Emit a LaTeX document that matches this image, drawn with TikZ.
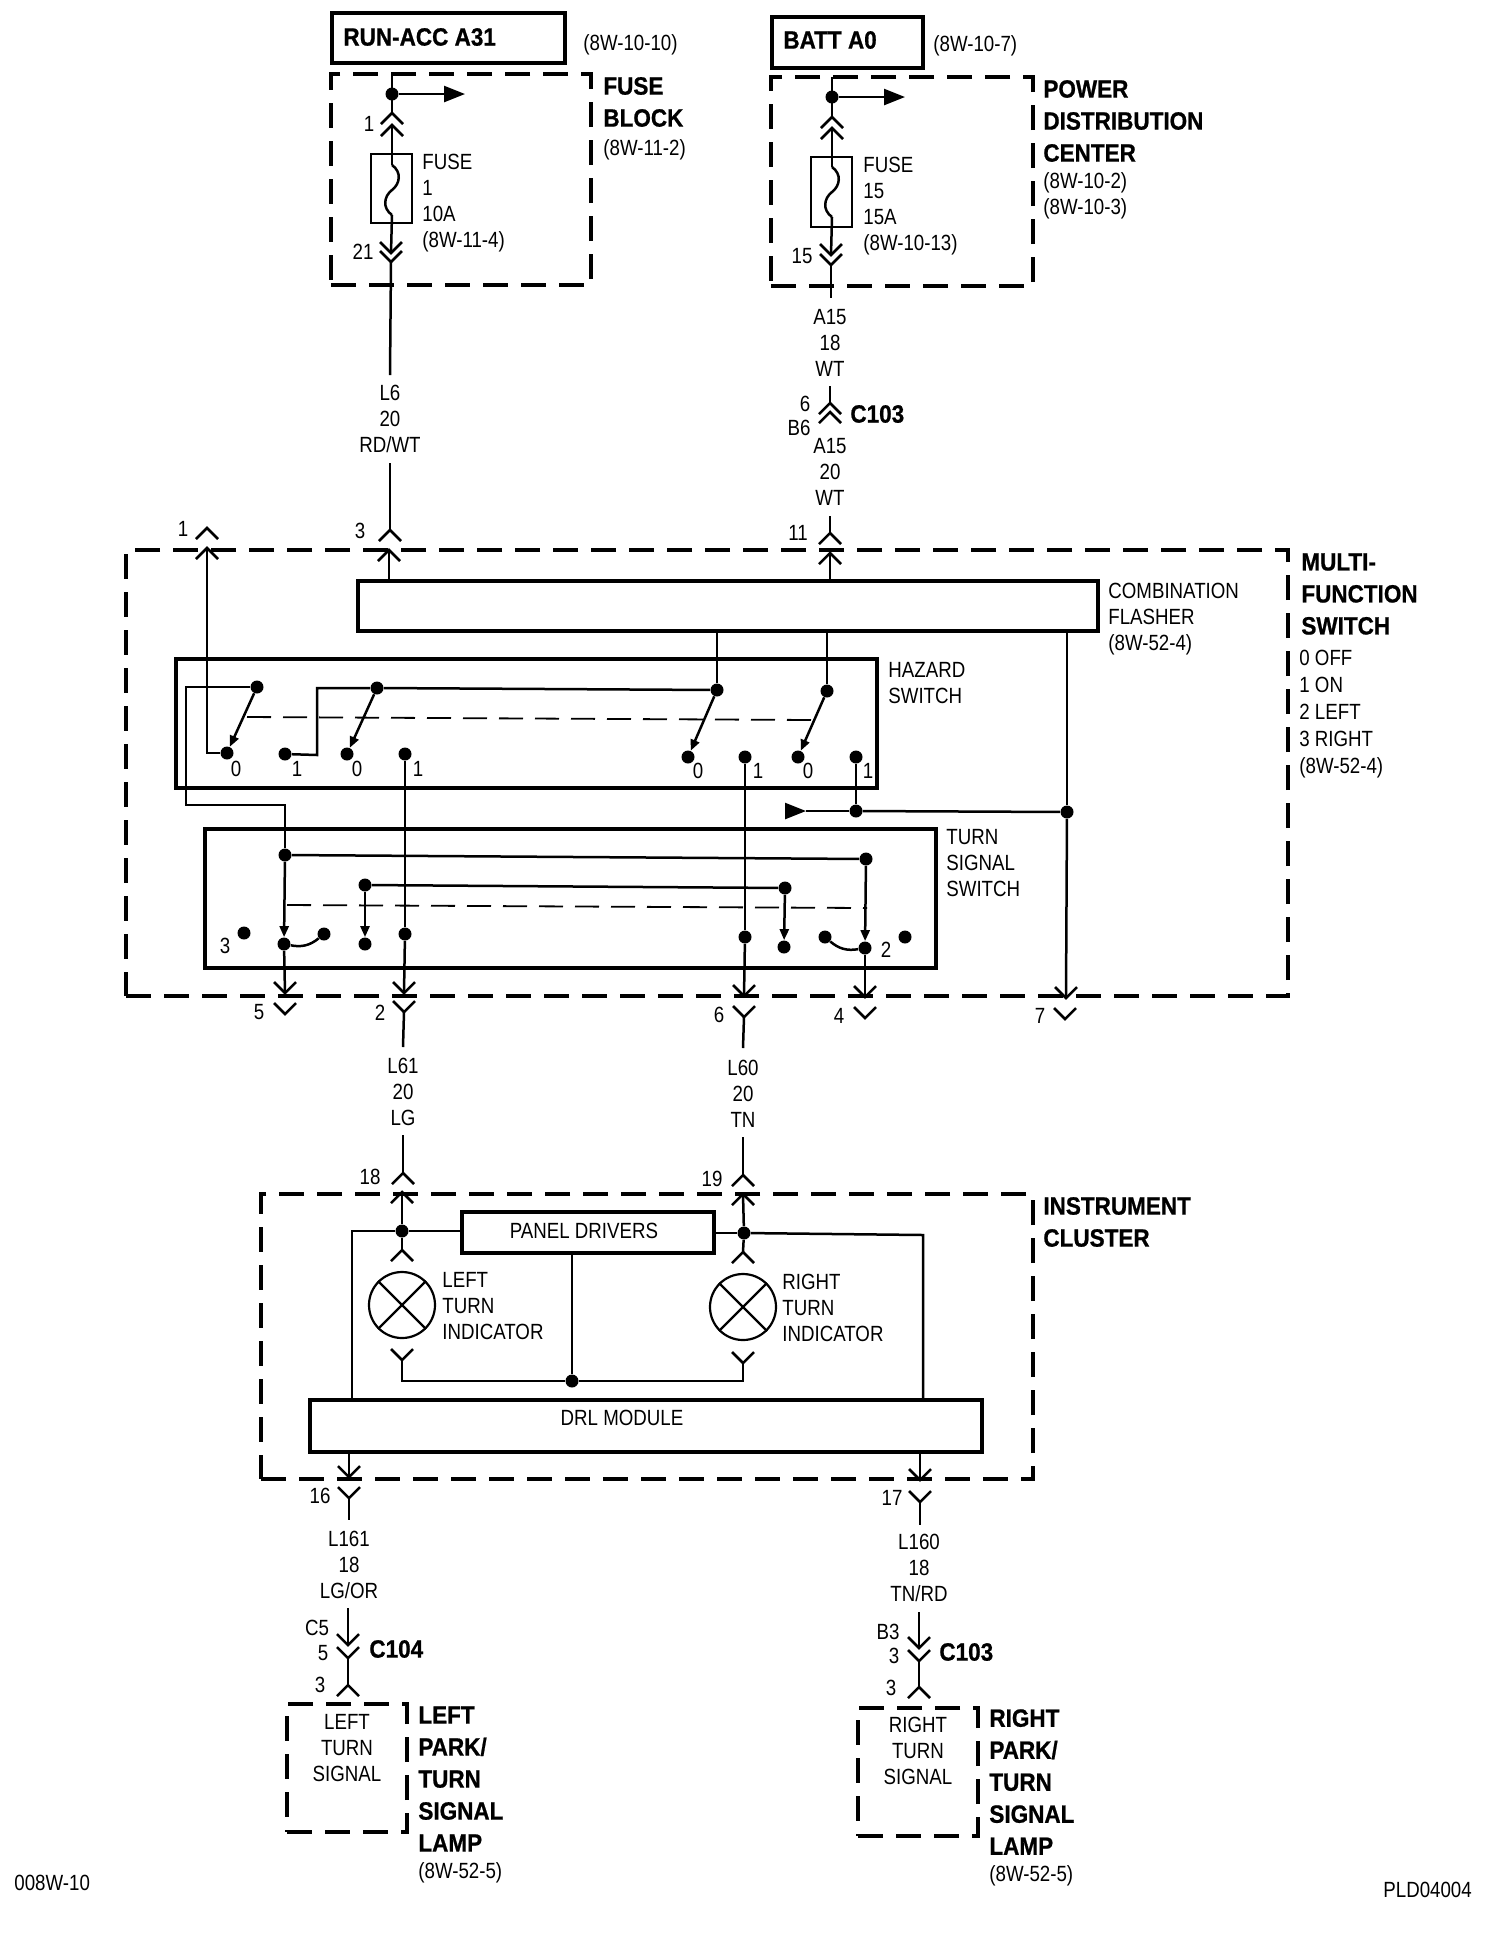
\documentclass[tikz,border=0pt]{standalone}
\usepackage{fontspec}
\setmainfont[FakeStretch=0.85,BoldFeatures={FakeStretch=0.9,FakeBold=0.8}]{Liberation Sans}
\usetikzlibrary{arrows.meta,fit}

\begin{document}
\begin{tikzpicture}[x=0.5pt,y=-0.5pt,
  wire/.style={line width=1.25pt},
  blade/.style={line width=1.25pt,-{Triangle[length=5.5pt,width=4.5pt]}},
  feed/.style={line width=1.25pt,-{Triangle[length=10.5pt,width=8pt]}},
  dot/.style={circle,fill=black,inner sep=0pt,minimum size=6.5pt},
  hbox/.style={draw,line width=2pt,inner sep=0pt},
  fbox/.style={draw,line width=1.25pt,inner sep=0pt},
  dbox/.style={draw,line width=1.75pt,dash pattern=on 12.5pt off 6.5pt,inner sep=0pt},
  link/.style={line width=0.9pt,dash pattern=on 12pt off 6pt},
  lamp/.style={draw,circle,line width=1.1pt,inner sep=0pt,minimum size=33pt},
  txt/.style={font=\fontsize{11}{13}\selectfont,inner sep=0pt,align=center},
  ltxt/.style={txt,anchor=west,align=left},
  htxt/.style={font=\fontsize{12.5}{16}\selectfont\bfseries,inner sep=0pt,anchor=west,align=left},
  chevup/.pic={\draw[wire] (-11,11) -- (0,0) -- (11,11);},
  chevdown/.pic={\draw[wire] (-11,-11) -- (0,0) -- (11,-11);},
  fuselink/.pic={
    \coordinate (-in) at (0,-25);
    \coordinate (-out) at (0,25);
    \draw[wire] (-in) .. controls (10,-18) and (8,-6) .. (0,0) .. controls (-8,6) and (-10,18) .. (-out);}]
\useasboundingbox (0,0) rectangle (1504,1940);

% supply boxes
\node[hbox,fit={(332,13) (565,63)}] (runacc) {};
\node[htxt] (runacctxt) at (343,37) {RUN-ACC A31};
\node[ltxt] (runaccref) at (583,45) {(8W-10-10)};
\node[hbox,fit={(772,17) (923,68)}] (batt) {};
\node[htxt] (batttxt) at (783,40) {BATT A0};
\node[ltxt] (battref) at (933,46) {(8W-10-7)};

% fuse block
\node[dbox,fit={(331,74) (591,285)}] (fuseblock) {};
\node[htxt] (fuseblocktxt) at (603,102) {FUSE\\BLOCK};
\node[ltxt] (fuseblockref) at (603,150) {(8W-11-2)};
\node[dot] (fa) at (392,94) {};
\coordinate (fatop) at (392,74);
\coordinate (faout) at (465,94);
\coordinate (fa1) at (392,113);
\coordinate (fa2) at (392,125);
\coordinate (fa3) at (391,253);
\coordinate (fa4) at (391,262);
\coordinate (fa5) at (390,375);
\pic at (fa1) {chevup};
\pic at (fa2) {chevup};
\pic at (fa3) {chevdown};
\pic at (fa4) {chevdown};
\node[fbox,fit={(371,154) (412,223)}] (fusea) {};
\pic (fl) at (392,190) {fuselink};
\draw[wire] (fatop) -- (fa1);
\draw[feed] (fa) -- (faout);
\draw[wire] (fa2) -- (fl-in);
\draw[wire] (fl-out) -- (fa3);
\draw[wire] (fa4) -- (fa5);
\node[ltxt] (fuseatxt) at (422,203) {FUSE\\1\\10A\\(8W-11-4)};
\node[txt] (fapin1) at (369,124) {1};
\node[txt] (fapin21) at (363,252) {21};

% power distribution center
\node[dbox,fit={(771,77) (1033,286)}] (pdc) {};
\node[htxt] (pdctxt) at (1043,121) {POWER\\DISTRIBUTION\\CENTER};
\node[ltxt] (pdcref) at (1043,196) {(8W-10-2)\\(8W-10-3)};
\node[dot] (fb) at (832,97) {};
\coordinate (fbtop) at (832,77);
\coordinate (fbout) at (905,97);
\coordinate (fb1) at (832,117);
\coordinate (fb2) at (832,128);
\coordinate (fb3) at (831,255);
\coordinate (fb4) at (831,265);
\coordinate (fb5) at (831,298);
\pic at (fb1) {chevup};
\pic at (fb2) {chevup};
\pic at (fb3) {chevdown};
\pic at (fb4) {chevdown};
\node[fbox,fit={(811,157) (852,227)}] (fuseb) {};
\pic (fm) at (832,192) {fuselink};
\draw[wire] (fbtop) -- (fb1);
\draw[feed] (fb) -- (fbout);
\draw[wire] (fb2) -- (fm-in);
\draw[wire] (fm-out) -- (fb3);
\draw[wire] (fb4) -- (fb5);
\node[ltxt] (fusebtxt) at (863,206) {FUSE\\15\\15A\\(8W-10-13)};
\node[txt] (fbpin15) at (802,256) {15};

% harness down to the switch
\node[txt] (l6txt) at (390,419) {L6\\20\\RD/WT};
\coordinate (l6) at (390,463);
\coordinate (m3o) at (390,530);
\coordinate (m3i) at (389,550);
\pic at (m3o) {chevup};
\pic at (m3i) {chevup};
\draw[wire] (l6) -- (m3o);
\node[txt] (a15txt) at (830,343) {A15\\18\\WT};
\coordinate (c1s) at (830,386);
\coordinate (c1a) at (830,403);
\coordinate (c1b) at (830,412);
\coordinate (c1c) at (830,516);
\coordinate (m11o) at (830,533);
\coordinate (m11i) at (830,553);
\pic at (c1a) {chevup};
\pic at (c1b) {chevup};
\pic at (m11o) {chevup};
\pic at (m11i) {chevup};
\draw[wire] (c1s) -- (c1a);
\draw[wire] (c1c) -- (m11o);
\node[txt] (c1p6) at (805,404) {6};
\node[txt] (c1pb6) at (799,428) {B6};
\node[htxt] (c1txt) at (850,414) {C103};
\node[txt] (a15btxt) at (830,472) {A15\\20\\WT};
\node[txt] (mp3) at (360,531) {3};
\node[txt] (mp11) at (798,533) {11};

% multi-function switch
\node[dbox,fit={(126,550) (1288,996)}] (mfs) {};
\node[htxt] (mfstxt) at (1301,594) {MULTI-\\FUNCTION\\SWITCH};
\node[font=\fontsize{11}{13.5}\selectfont,inner sep=0pt,anchor=west,align=left] (mfskey) at (1299,714) {0 OFF\\1 ON\\2 LEFT\\3 RIGHT\\(8W-52-4)};
\node[hbox,fit={(358,581) (1098,631)}] (flasher) {};
\node[ltxt] (flashertxt) at (1108,619) {COMBINATION\\FLASHER\\(8W-52-4)};
\node[hbox,fit={(176,659) (877,788)}] (hazard) {};
\node[ltxt] (hazardtxt) at (888,683) {HAZARD\\SWITCH};
\node[hbox,fit={(205,829) (936,968)}] (turnsw) {};
\node[ltxt] (turntxt) at (946,863) {TURN\\SIGNAL\\SWITCH};

% hazard switch contacts
\node[dot] (ha) at (257,687) {};
\node[dot] (hb) at (227,753) {};
\node[dot] (hc) at (285,754) {};
\node[dot] (hd) at (377,688) {};
\node[dot] (he) at (347,754) {};
\node[dot] (hf) at (405,754) {};
\node[dot] (hg) at (717,690) {};
\node[dot] (hh) at (688,757) {};
\node[dot] (hi) at (745,757) {};
\node[dot] (hj) at (827,691) {};
\node[dot] (hk) at (798,757) {};
\node[dot] (hl) at (856,757) {};
\node[txt] (hp0a) at (236,769) {0};
\node[txt] (hp1a) at (297,769) {1};
\node[txt] (hp0b) at (357,769) {0};
\node[txt] (hp1b) at (418,769) {1};
\node[txt] (hp0c) at (698,771) {0};
\node[txt] (hp1c) at (758,771) {1};
\node[txt] (hp0d) at (808,771) {0};
\node[txt] (hp1d) at (868,771) {1};
\draw[blade] (ha) -- (hb);
\draw[blade] (hd) -- (he);
\draw[blade] (hg) -- (hh);
\draw[blade] (hj) -- (hk);
\coordinate (hm) at (247,717);
\coordinate (hn) at (813,720);
\draw[link] (hm) -- (hn);

% turn signal switch contacts
\node[dot] (ta) at (285,855) {};
\node[dot] (tb) at (866,859) {};
\node[dot] (tc) at (405,934) {};
\node[dot] (td) at (745,937) {};
\node[dot] (te) at (284,944) {};
\node[dot] (tf) at (865,948) {};
\node[dot] (tg) at (365,885) {};
\node[dot] (th) at (785,888) {};
\node[dot] (ti) at (365,944) {};
\node[dot] (tj) at (784,947) {};
\node[dot] (tk) at (244,933) {};
\node[dot] (tl) at (324,934) {};
\node[dot] (tm) at (825,937) {};
\node[dot] (tn) at (905,937) {};
\node[txt] (tp3) at (225,946) {3};
\node[txt] (tp2) at (886,950) {2};
\draw[wire] (ta) -- (tb);
\draw[wire] (tg) -- (th);
\draw[blade] (ta) -- (te);
\draw[blade] (tb) -- (tf);
\draw[blade] (tg) -- (ti);
\draw[blade] (th) -- (tj);
\draw[wire] (te) to[bend right=25] (tl);
\draw[wire] (tm) to[bend right=25] (tf);
\coordinate (to) at (287,905);
\coordinate (tq) at (867,908);
\draw[link] (to) -- (tq);

% pins of the switch
\coordinate (m1o) at (207,528);
\coordinate (m1i) at (207,548);
\coordinate (m5i) at (285,993);
\coordinate (m5o) at (285,1014);
\coordinate (m2i) at (404,993);
\coordinate (m2o) at (404,1012);
\coordinate (m2s) at (403,1047);
\coordinate (m6i) at (744,996);
\coordinate (m6o) at (744,1017);
\coordinate (m6s) at (743,1048);
\coordinate (m4i) at (865,997);
\coordinate (m4o) at (865,1018);
\coordinate (m7i) at (1066,998);
\coordinate (m7o) at (1065,1019);
\foreach \p in {m1o,m1i} {\pic at (\p) {chevup};}
\foreach \p in {m5i,m5o,m2i,m2o,m6i,m6o,m4i,m4o,m7i,m7o} {\pic at (\p) {chevdown};}
\node[txt] (mp1) at (183,529) {1};
\node[txt] (mp5) at (259,1012) {5};
\node[txt] (mp2) at (380,1013) {2};
\node[txt] (mp6) at (719,1015) {6};
\node[txt] (mp4) at (839,1016) {4};
\node[txt] (mp7) at (1040,1016) {7};

% switch wiring
\coordinate (ha1) at (186,805);
\coordinate (hc1) at (317,755);
\node[dot] (jb) at (856,811) {};
\node[dot] (jc) at (1067,812) {};
\coordinate (ja) at (788,811);
\coordinate (jd) at (806,811);
\draw[wire] (m3i) -- (m3i |- flasher.north);
\draw[wire] (m11i) -- (m11i |- flasher.north);
\draw[wire] (m1i) |- (hb);
\draw[wire] (ha) -| (ha1) -| (ta);
\draw[wire] (hc) -- (hc1) |- (hd);
\draw[wire] (hd) -- (hg);
\draw[wire] (hg) -- (hg |- flasher.south);
\draw[wire] (hj) -- (hj |- flasher.south);
\draw[wire] (hf) -- (tc);
\draw[wire] (tc) -- (m2i);
\draw[wire] (hi) -- (td);
\draw[wire] (td) -- (m6i);
\draw[wire] (hl) -- (jb);
\draw[wire] (jb) -- (jc);
\draw[wire] (jd) -- (jb);
\draw[feed] (ja) -- (jd);
\draw[wire] (jc |- flasher.south) -- (jc);
\draw[wire] (jc) -- (m7i);
\draw[wire] (te) -- (m5i);
\draw[wire] (tf) -- (m4i);
\draw[wire] (m2o) -- (m2s);
\draw[wire] (m6o) -- (m6s);

% instrument cluster
\node[txt] (l61txt) at (403,1092) {L61\\20\\LG};
\node[txt] (l60txt) at (743,1094) {L60\\20\\TN};
\coordinate (l61) at (403,1135);
\coordinate (l60) at (743,1137);
\coordinate (m18o) at (403,1173);
\coordinate (m19o) at (743,1175);
\coordinate (m18i) at (402,1192);
\coordinate (m19i) at (743,1194);
\coordinate (m18l) at (402,1250);
\coordinate (m19l) at (743,1252);
\foreach \p in {m18o,m19o,m18i,m19i,m18l,m19l} {\pic at (\p) {chevup};}
\draw[wire] (l61) -- (m18o);
\draw[wire] (l60) -- (m19o);
\node[txt] (mp18) at (370,1177) {18};
\node[txt] (mp19) at (712,1179) {19};
\node[dbox,fit={(261,1194) (1033,1479)}] (cluster) {};
\node[htxt] (clustertxt) at (1043,1222) {INSTRUMENT\\CLUSTER};
\node[hbox,fit={(462,1212) (714,1253)}] (panel) {};
\node[txt] (paneltxt) at (584,1231) {PANEL DRIVERS};
\node[hbox,fit={(310,1400) (982,1452)}] (drl) {};
\node[txt] (drltxt) at (622,1418) {DRL MODULE};
\node[dot] (ca) at (402,1231) {};
\node[dot] (cb) at (744,1233) {};
\node[dot] (cc) at (572,1381) {};
\coordinate (cd) at (352,1231);
\coordinate (ce) at (923,1235);
\draw[wire] (m18i) -- (ca);
\draw[wire] (ca) -- (m18l);
\draw[wire] (m19i) -- (cb);
\draw[wire] (cb) -- (m19l);
\draw[wire] (panel.west |- ca) -- (ca);
\draw[wire] (ca) -- (cd) -- (cd |- drl.north);
\draw[wire] (panel.east |- cb) -- (cb);
\draw[wire] (cb) -- (ce) -- (ce |- drl.north);
\draw[wire] (cc |- panel.south) -- (cc);
\node[lamp] (lampl) at (402,1305) {};
\node[lamp] (lampr) at (743,1307) {};
\draw[wire,line width=1.1pt] (lampl.45) -- (lampl.225);
\draw[wire,line width=1.1pt] (lampl.135) -- (lampl.315);
\draw[wire,line width=1.1pt] (lampr.45) -- (lampr.225);
\draw[wire,line width=1.1pt] (lampr.135) -- (lampr.315);
\node[ltxt] (lampltxt) at (442,1306) {LEFT\\TURN\\INDICATOR};
\node[ltxt] (lamprtxt) at (782,1308) {RIGHT\\TURN\\INDICATOR};
\coordinate (cl) at (402,1360);
\coordinate (cr) at (743,1363);
\pic at (cl) {chevdown};
\pic at (cr) {chevdown};
\draw[wire] (cl) |- (cc);
\draw[wire] (cr) |- (cc);

% left lamp branch
\coordinate (m16i) at (349,1477);
\coordinate (m16o) at (349,1498);
\coordinate (m16s) at (349,1520);
\coordinate (c2s) at (348,1608);
\coordinate (c2a) at (348,1645);
\coordinate (c2b) at (348,1658);
\coordinate (c2c) at (348,1685);
\foreach \p in {m16i,m16o,c2a,c2b} {\pic at (\p) {chevdown};}
\pic at (c2c) {chevup};
\draw[wire] (m16i |- drl.south) -- (m16i);
\draw[wire] (m16o) -- (m16s);
\draw[wire] (c2s) -- (c2a);
\draw[wire] (c2b) -- (c2c);
\node[txt] (mp16) at (320,1496) {16};
\node[txt] (l161txt) at (349,1565) {L161\\18\\LG/OR};
\node[txt] (c2pc5) at (317,1628) {C5};
\node[txt] (c2p5) at (323,1653) {5};
\node[htxt] (c2txt) at (369,1649) {C104};
\node[txt] (c2p3) at (320,1685) {3};
\node[dbox,fit={(287,1704) (407,1832)}] (leftlamp) {};
\node[txt] (leftlamptxt) at (347,1748) {LEFT\\TURN\\SIGNAL};
\node[htxt] (leftname) at (418,1779) {LEFT\\PARK/\\TURN\\SIGNAL\\LAMP};
\node[ltxt] (leftref) at (418,1873) {(8W-52-5)};

% right lamp branch
\coordinate (m17i) at (920,1480);
\coordinate (m17o) at (920,1502);
\coordinate (m17s) at (920,1525);
\coordinate (c3s) at (919,1612);
\coordinate (c3a) at (919,1648);
\coordinate (c3b) at (919,1661);
\coordinate (c3c) at (919,1687);
\foreach \p in {m17i,m17o,c3a,c3b} {\pic at (\p) {chevdown};}
\pic at (c3c) {chevup};
\draw[wire] (m17i |- drl.south) -- (m17i);
\draw[wire] (m17o) -- (m17s);
\draw[wire] (c3s) -- (c3a);
\draw[wire] (c3b) -- (c3c);
\node[txt] (mp17) at (892,1498) {17};
\node[txt] (l160txt) at (919,1568) {L160\\18\\TN/RD};
\node[txt] (c3pb3) at (888,1632) {B3};
\node[txt] (c3p3) at (894,1656) {3};
\node[htxt] (c3txt) at (939,1652) {C103};
\node[txt] (c3p3b) at (891,1688) {3};
\node[dbox,fit={(858,1708) (978,1836)}] (rightlamp) {};
\node[txt] (rightlamptxt) at (918,1751) {RIGHT\\TURN\\SIGNAL};
\node[htxt] (rightname) at (989,1782) {RIGHT\\PARK/\\TURN\\SIGNAL\\LAMP};
\node[ltxt] (rightref) at (989,1876) {(8W-52-5)};

% page marks
\node[ltxt] (pagemark) at (14,1883) {008W-10};
\node[ltxt] (figmark) at (1383,1890) {PLD04004};
\end{tikzpicture}
\end{document}
